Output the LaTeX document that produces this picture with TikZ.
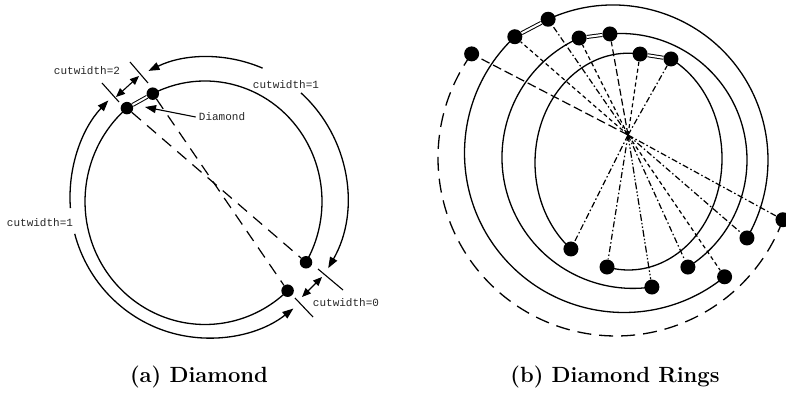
\documentclass[tikz,border=0pt]{standalone}
\usepackage{fontspec}
\newfontfamily\cutfont{Liberation Mono}
\usetikzlibrary{arrows.meta,calc}
\begin{document}
\begin{tikzpicture}[x=1pt,y=1pt,
  arcline/.style={line width=1.3pt},
  tickline/.style={line width=1.1pt},
  arrowend/.style={-{Triangle[length=11pt,width=8pt]}},
  dblarrow/.style={{Triangle[length=9pt,width=7.5pt]}-{Triangle[length=9pt,width=7.5pt]}},
  dotA/.style={circle,fill=black,draw=none,inner sep=0pt,minimum size=12.5pt},
  dotB/.style={circle,fill=black,draw=none,inner sep=0pt,minimum size=15pt},
  lbl/.style={font=\cutfont\fontsize{11}{12}\selectfont,inner sep=0pt,text=black!85},
  captext/.style={font=\fontsize{22}{26}\selectfont\bfseries,inner sep=0pt},
  dblline/.style={line width=1pt,double=white,double distance=2pt},
  longdash/.style={line width=1.2pt,dash pattern=on 12pt off 8pt},
  rayA/.style={line width=1.2pt,dash pattern=on 9pt off 4pt},
  rayB/.style={line width=1.2pt,dash pattern=on 4pt off 3pt},
  rayC/.style={line width=1.2pt,dash pattern=on 6pt off 2.5pt on 1.5pt off 2.5pt},
  rayD/.style={line width=1.2pt,dash pattern=on 7pt off 3pt},
  rayE/.style={line width=1.2pt,dash pattern=on 7pt off 2pt on 1.5pt off 2pt on 1.5pt off 2pt}
]
\useasboundingbox (0,0) rectangle (786,-395);

%% ---------------- Panel (a) ----------------
\coordinate (ca) at (205,-201.5);
\coordinate (co) at (208.5,-197.5);
\node[dotA] (P1) at ($(ca)+(130.6:120pt and 123pt)$) {};
\node[dotA] (P2) at ($(ca)+(116.5:117pt and 120.5pt)$) {};
\node[dotA] (P3) at ($(ca)+(-30.3:117pt and 120.5pt)$) {};
\node[dotA] (P4) at ($(ca)+(313.5:120pt and 123pt)$) {};

% dashed diagonals
\draw[longdash] (P1) -- (P3);
\draw[longdash] (P2) -- (P4);

% inner ring arcs
\draw[arcline] (P2.center) arc[start angle=116.5,end angle=-30.3,x radius=117pt,y radius=120.5pt];
\draw[arcline] (P1.center) arc[start angle=130.6,end angle=313.5,x radius=120pt,y radius=123pt];
\draw[dblline] (P1) -- (P2);

% outer arcs with arrows
\coordinate (oa1) at ($(co)+(67:138.5pt and 140.5pt)$);
\coordinate (oa2) at ($(co)+(48.1:138.5pt and 140.5pt)$);
\coordinate (oa3) at ($(co)+(184.3:138.5pt and 140.5pt)$);
\coordinate (oa4) at ($(co)+(195:138.5pt and 140.5pt)$);
\draw[arcline,arrowend] (oa1) arc[start angle=67,end angle=115.7,x radius=138.5pt,y radius=140.5pt];
\draw[arcline,arrowend] (oa2) arc[start angle=48.1,end angle=-30.2,x radius=138.5pt,y radius=140.5pt];
\draw[arcline,arrowend] (oa3) arc[start angle=184.3,end angle=136.3,x radius=138.5pt,y radius=140.5pt];
\draw[arcline,arrowend] (oa4) arc[start angle=195,end angle=307.8,x radius=138.5pt,y radius=140.5pt];

% cut ticks
\coordinate (t1a) at (130,-62);  \coordinate (t1b) at (148,-83);
\coordinate (t2a) at (102,-83);  \coordinate (t2b) at (119,-102);
\coordinate (t3a) at (318,-269); \coordinate (t3b) at (343,-290);
\coordinate (t4a) at (295,-298); \coordinate (t4b) at (313,-317);
\draw[tickline] (t1a) -- (t1b);
\draw[tickline] (t2a) -- (t2b);
\draw[tickline] (t3a) -- (t3b);
\draw[tickline] (t4a) -- (t4b);

% double arrows
\coordinate (d1a) at (116,-97);  \coordinate (d1b) at (139,-76);
\coordinate (d2a) at (302,-297); \coordinate (d2b) at (322,-277);
\draw[tickline,dblarrow] (d1a) -- (d1b);
\draw[tickline,dblarrow] (d2a) -- (d2b);

% labels
\node[lbl] (lc2) at (87,-71) {cutwidth=2};
\node[lbl] (lc1a) at (286,-85) {cutwidth=1};
\node[lbl] (lc1b) at (40,-223) {cutwidth=1};
\node[lbl] (lc0) at (346,-303) {cutwidth=0};
\node[lbl,inner sep=3pt] (ldia) at (222,-117) {Diamond};
\coordinate (dtip) at (145,-107);
\draw[tickline,arrowend] (ldia.west) -- (dtip);

\node[captext] (capa) at (199,-377) {(a) Diamond};

%% ---------------- Panel (b) ----------------
\coordinate (cOR) at (613,-160);
\coordinate (cOL) at (624,-153);
\coordinate (cSR) at (620.5,-160);
\coordinate (cSL) at (633,-157.4);
\coordinate (cIR) at (628.5,-158.4);
\coordinate (cIL) at (628.5,-162.7);
\coordinate (cD) at (616,-158);
\coordinate (P) at (628,-135);

\node[dotB] (A) at ($(cD)+(144.2:178pt)$) {};
\node[dotB] (N) at ($(cD)+(-20.3:178pt)$) {};
\node[dotB] (B) at ($(cOL)+(133.2:159.5pt)$) {};
\node[dotB] (L) at ($(cOL)+(309.1:159.5pt)$) {};
\node[dotB] (C) at ($(cOR)+(114.75:155pt)$) {};
\node[dotB] (M) at ($(cOR)+(-30.2:155pt)$) {};
\node[dotB] (D) at ($(cSL)+(114.3:131pt)$) {};
\node[dotB] (J) at ($(cSL)+(278.3:131pt)$) {};
\node[dotB] (E) at ($(cSR)+(94.8:126.5pt)$) {};
\node[dotB] (K) at ($(cSR)+(-57.8:126.5pt)$) {};
\node[dotB] (F) at ($(cIL)+(82.9:93.5pt and 109.5pt)$) {};
\node[dotB] (H) at ($(cIL)+(232:93.5pt and 109.5pt)$) {};
\node[dotB] (G) at ($(cIR)+(63:93.5pt and 111.6pt)$) {};
\node[dotB] (I) at ($(cIR)+(-103.3:93.5pt and 111.6pt)$) {};

% rays
\draw[rayA] (P) -- (A);
\draw[rayB] (P) -- (B);
\draw[rayC] (P) -- (C);
\draw[rayB] (P) -- (D);
\draw[rayD] (P) -- (E);
\draw[rayB] (P) -- (F);
\draw[rayC] (P) -- (G);
\draw[rayC] (P) -- (H);
\draw[rayC] (P) -- (I);
\draw[rayE] (P) -- (J);
\draw[rayC] (P) -- (K);
\draw[rayB] (P) -- (L);
\draw[rayC] (P) -- (M);
\draw[rayC] (P) -- (N);

% rings
\draw[arcline] (C.center) arc[start angle=114.75,end angle=-30.2,radius=155pt];
\draw[arcline] (B.center) arc[start angle=133.2,end angle=309.1,radius=159.5pt];
\draw[arcline] (E.center) arc[start angle=94.8,end angle=-57.8,radius=126.5pt];
\draw[arcline] (D.center) arc[start angle=114.3,end angle=278.3,radius=131pt];
\draw[arcline] (G.center) arc[start angle=63,end angle=-103.3,x radius=93.5pt,y radius=111.6pt];
\draw[arcline] (F.center) arc[start angle=82.9,end angle=232,x radius=93.5pt,y radius=109.5pt];
\draw[line width=1.3pt,dash pattern=on 14pt off 8pt] (A.center) arc[start angle=144.2,end angle=339.7,radius=178pt];

\draw[dblline] (B) -- (C);
\draw[dblline] (D) -- (E);
\draw[dblline] (F) -- (G);

\node[captext] (capb) at (615,-377) {(b) Diamond Rings};
\end{tikzpicture}
\end{document}
